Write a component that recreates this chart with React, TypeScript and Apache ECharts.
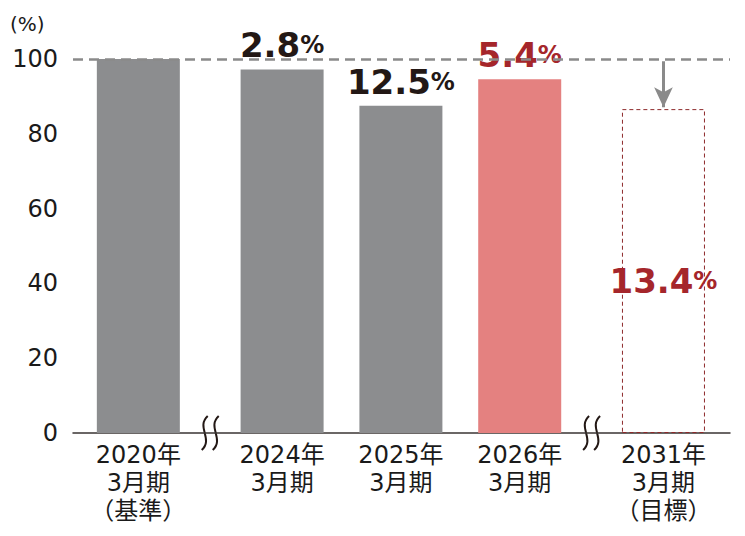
import React, { useEffect, useRef } from "react";
import * as echarts from "echarts";

// ---- data ----
const categories = [
  "2020年\n3月期\n（基準）",
  "2024年\n3月期",
  "2025年\n3月期",
  "2026年\n3月期",
  "2031年\n3月期\n（目標）",
];
const values = [100, 97.2, 87.5, 94.6, 86.6];
const reductionLabels = ["", "2.8", "12.5", "5.4", "13.4"];
const breaksBefore = [0, 1, 1, 1, 2]; // axis breaks (≀≀) before each category
const yMin = 0;
const yMax = 100;
const yInterval = 20;
const baseLine = 100;
const unitLabel = "(%)";

// ---- style ----
const FONT = "'DejaVu Sans', 'Noto Sans CJK JP', sans-serif";
const GRAY = "#8c8d8f";
const PINK = "#e48180";
const DARK_RED = "#8e2a2b";
const RED = "#a5262b";
const INK = "#231815";
const TEXT = "#1a1a1a";
const BREAK_EXTRA = 0.21;

const positions = categories.map((_, i) => i + breaksBefore[i] * BREAK_EXTRA);
const breakMids: number[] = [];
for (let i = 1; i < categories.length; i++) {
  if (breaksBefore[i] > breaksBefore[i - 1]) {
    breakMids.push((positions[i - 1] + positions[i]) / 2);
  }
}

export default function App() {
  const ref = useRef<HTMLDivElement>(null);

  useEffect(() => {
    if (!ref.current) return;
    const chart = echarts.init(ref.current, null, { renderer: "svg" });

    const rich = (color: string) => ({
      n: { fontFamily: FONT, fontWeight: "bold", fontSize: 34, color, lineHeight: 36 },
      p: { fontFamily: FONT, fontWeight: "bold", fontSize: 24, color, lineHeight: 36 },
    });

    const last = categories.length - 1;
    const data = values.map((v, i) => {
      const isTarget = i === last;
      const isCurrent = i === last - 1;
      const labelColor = isTarget || isCurrent ? RED : INK;
      return {
        value: [positions[i], v],
        itemStyle: isTarget
          ? { color: "rgba(0,0,0,0)", borderColor: DARK_RED, borderWidth: 1, borderType: [4, 3] }
          : { color: isCurrent ? PINK : GRAY },
        label: {
          show: reductionLabels[i] !== "",
          position: isTarget ? "inside" : "top",
          offset: isTarget ? [0, 10] : [0, 0],
          distance: 6,
          formatter: `{n|${reductionLabels[i]}}{p|%}`,
          rich: rich(labelColor),
        },
      };
    });

    const unitText = {
      type: "text",
      left: 10,
      top: 14,
      style: { text: unitLabel, fontFamily: FONT, fontSize: 20, fill: TEXT },
    };

    chart.setOption({
      animation: false,
      grid: { left: 73, right: 15, top: 59, bottom: 103, containLabel: false },
      xAxis: {
        type: "value",
        min: positions[0] - 0.55,
        max: positions[last] + 0.56,
        splitLine: { show: false },
        axisLine: { show: true, onZero: false, lineStyle: { color: "#3a3433", width: 1.5 } },
        axisTick: { show: false },
        axisLabel: {
          customValues: positions,
          showMinLabel: true,
          showMaxLabel: true,
          hideOverlap: false,
          margin: 8,
          fontFamily: FONT,
          fontSize: 24,
          lineHeight: 28,
          color: TEXT,
          formatter: (val: number) => {
            const idx = positions.findIndex((p) => Math.abs(p - val) < 1e-6);
            return idx >= 0 ? categories[idx] : "";
          },
        },
      },
      yAxis: {
        type: "value",
        min: yMin,
        max: yMax,
        interval: yInterval,
        splitLine: { show: false },
        axisLine: { show: false },
        axisTick: { show: false },
        axisLabel: { fontFamily: FONT, fontSize: 24, color: TEXT, margin: 15 },
      },
      graphic: [unitText],
      series: [
        {
          type: "bar",
          barWidth: 83,
          data,
          markLine: {
            silent: true,
            symbol: ["none", "none"],
            label: { show: false },
            data: [
              {
                yAxis: baseLine,
                lineStyle: { color: "#8a8a8a", width: 2.5, type: [10, 6] },
              },
              [
                {
                  coord: [positions[last], baseLine - 0.6],
                  symbol: "none",
                  lineStyle: { color: "#8a8a8a", width: 3, type: "solid" },
                },
                {
                  coord: [positions[last], values[last] + 0.5],
                  symbol: "arrow",
                  symbolSize: [14, 20],
                },
              ],
            ],
          },
        },
      ],
    });

    // axis break marks
    const graphics: any[] = [];
    breakMids.forEach((m) => {
      const [px, py] = chart.convertToPixel({ gridIndex: 0 }, [m, 0]) as number[];
      const curve = (dx: number) => ({
        type: "bezierCurve",
        shape: {
          x1: dx + 3, y1: -17,
          cpx1: dx - 9, cpy1: -6,
          cpx2: dx + 9, cpy2: 6,
          x2: dx - 3, y2: 17,
        },
        style: { stroke: INK, lineWidth: 2, fill: null },
      });
      graphics.push({
        type: "group",
        x: px,
        y: py,
        z: 100,
        children: [
          { type: "rect", shape: { x: -5, y: -3, width: 10, height: 6 }, style: { fill: "#fff" } },
          curve(-5.5),
          curve(5.5),
        ],
      });
    });
    chart.setOption({ graphic: [unitText, ...graphics] });

    return () => chart.dispose();
  }, []);

  return (
    <div
      ref={ref}
      style={{ position: "absolute", left: 0, top: 0, width: 745, height: 536 }}
    />
  );
}
